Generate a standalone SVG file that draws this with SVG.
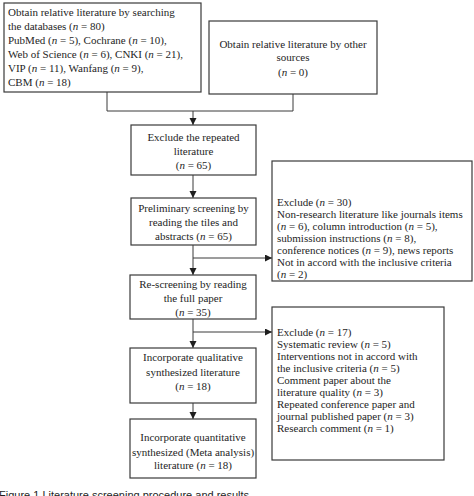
<svg xmlns="http://www.w3.org/2000/svg" width="474" height="496" viewBox="0 0 474 496">
<style>
.box{fill:#fff;stroke:#3a3a3a;stroke-width:1.2}
.t{font-family:"Liberation Serif","Times New Roman",serif;font-size:11px;fill:#1e1e1e}
.c{text-anchor:middle}
.i{font-style:italic}
.ln{fill:none;stroke:#3a3a3a;stroke-width:1}
.cap{font-family:"Liberation Sans",Arial,sans-serif;font-size:11px;fill:#1e1e1e}
</style>
<defs>
<marker id="ah" markerUnits="userSpaceOnUse" markerWidth="8" markerHeight="8" refX="7" refY="3.5" orient="auto">
<path d="M0,0 L7,3.5 L0,7 Z" fill="#1e1e1e"/>
</marker>
</defs>
<rect width="474" height="496" fill="#fff"/>
<g id="connectors">
<polyline class="ln" points="107,92 107,111 293,111 293,94"/>
<line class="ln" x1="193" y1="111" x2="193" y2="125" marker-end="url(#ah)"/>
<line class="ln" x1="193" y1="175" x2="193" y2="198" marker-end="url(#ah)"/>
<line class="ln" x1="193" y1="245" x2="193" y2="275" marker-end="url(#ah)"/>
<line class="ln" x1="193" y1="258" x2="272" y2="258" marker-end="url(#ah)"/>
<line class="ln" x1="193" y1="319" x2="193" y2="348" marker-end="url(#ah)"/>
<line class="ln" x1="193" y1="332" x2="272" y2="332" marker-end="url(#ah)"/>
<line class="ln" x1="193" y1="403" x2="193" y2="419" marker-end="url(#ah)"/>
</g>
<g id="n1">
<rect class="box" x="4" y="3" width="197" height="89"/>
<text class="t" x="8" y="16">Obtain relative literature by searching</text>
<text class="t" x="8" y="30">the databases (<tspan class="i">n</tspan> = 80)</text>
<text class="t" x="8" y="44">PubMed (<tspan class="i">n</tspan> = 5), Cochrane (<tspan class="i">n</tspan> = 10),</text>
<text class="t" x="8" y="58">Web of Science (<tspan class="i">n</tspan> = 6), CNKI (<tspan class="i">n</tspan> = 21),</text>
<text class="t" x="8" y="72">VIP (<tspan class="i">n</tspan> = 11), Wanfang (<tspan class="i">n</tspan> = 9),</text>
<text class="t" x="8" y="86">CBM (<tspan class="i">n</tspan> = 18)</text>
</g>
<g id="n2">
<rect class="box" x="209" y="21" width="168" height="73"/>
<text class="t c" x="293" y="48">Obtain relative literature by other</text>
<text class="t c" x="293" y="61">sources</text>
<text class="t c" x="293" y="76">(<tspan class="i">n</tspan> = 0)</text>
</g>
<g id="n3">
<rect class="box" x="131" y="125" width="125" height="50"/>
<text class="t c" x="193.5" y="141">Exclude the repeated</text>
<text class="t c" x="193.5" y="155">literature</text>
<text class="t c" x="193.5" y="169">(<tspan class="i">n</tspan> = 65)</text>
</g>
<g id="n4">
<rect class="box" x="131" y="198" width="125" height="47"/>
<text class="t c" x="193.5" y="212">Preliminary screening by</text>
<text class="t c" x="193.5" y="226">reading the tiles and</text>
<text class="t c" x="193.5" y="240">abstracts (<tspan class="i">n</tspan> = 65)</text>
</g>
<g id="n5">
<rect class="box" x="272" y="161" width="200" height="120"/>
<text class="t" x="277" y="206">Exclude (<tspan class="i">n</tspan> = 30)</text>
<text class="t" x="277" y="218">Non-research literature like journals items</text>
<text class="t" x="277" y="230">(<tspan class="i">n</tspan> = 6), column introduction (<tspan class="i">n</tspan> = 5),</text>
<text class="t" x="277" y="242">submission instructions (<tspan class="i">n</tspan> = 8),</text>
<text class="t" x="277" y="254">conference notices (<tspan class="i">n</tspan> = 9), news reports</text>
<text class="t" x="277" y="266">Not in accord with the inclusive criteria</text>
<text class="t" x="277" y="278">(<tspan class="i">n</tspan> = 2)</text>
</g>
<g id="n6">
<rect class="box" x="130" y="275" width="126" height="44"/>
<text class="t c" x="193" y="288">Re-screening by reading</text>
<text class="t c" x="193" y="302">the full paper</text>
<text class="t c" x="193" y="316">(<tspan class="i">n</tspan> = 35)</text>
</g>
<g id="n7">
<rect class="box" x="272" y="307" width="172" height="153"/>
<text class="t" x="277" y="336">Exclude (<tspan class="i">n</tspan> = 17)</text>
<text class="t" x="277" y="348">Systematic review (<tspan class="i">n</tspan> = 5)</text>
<text class="t" x="277" y="360">Interventions not in accord with</text>
<text class="t" x="277" y="372">the inclusive criteria (<tspan class="i">n</tspan> = 5)</text>
<text class="t" x="277" y="384">Comment paper about the</text>
<text class="t" x="277" y="396">literature quality (<tspan class="i">n</tspan> = 3)</text>
<text class="t" x="277" y="408">Repeated conference paper and</text>
<text class="t" x="277" y="420">journal published paper (<tspan class="i">n</tspan> = 3)</text>
<text class="t" x="277" y="432">Research comment (<tspan class="i">n</tspan> = 1)</text>
</g>
<g id="n8">
<rect class="box" x="130" y="348" width="126" height="55"/>
<text class="t c" x="193" y="361">Incorporate qualitative</text>
<text class="t c" x="193" y="376">synthesized literature</text>
<text class="t c" x="193" y="390">(<tspan class="i">n</tspan> = 18)</text>
</g>
<g id="n9">
<rect class="box" x="130" y="419" width="126" height="59"/>
<text class="t c" x="193" y="441">Incorporate quantitative</text>
<text class="t c" x="193" y="456">synthesized (Meta analysis)</text>
<text class="t c" x="193" y="469">literature (<tspan class="i">n</tspan> = 18)</text>
</g>
<text class="cap" x="-1" y="499">Figure 1 Literature screening procedure and results</text>
</svg>
